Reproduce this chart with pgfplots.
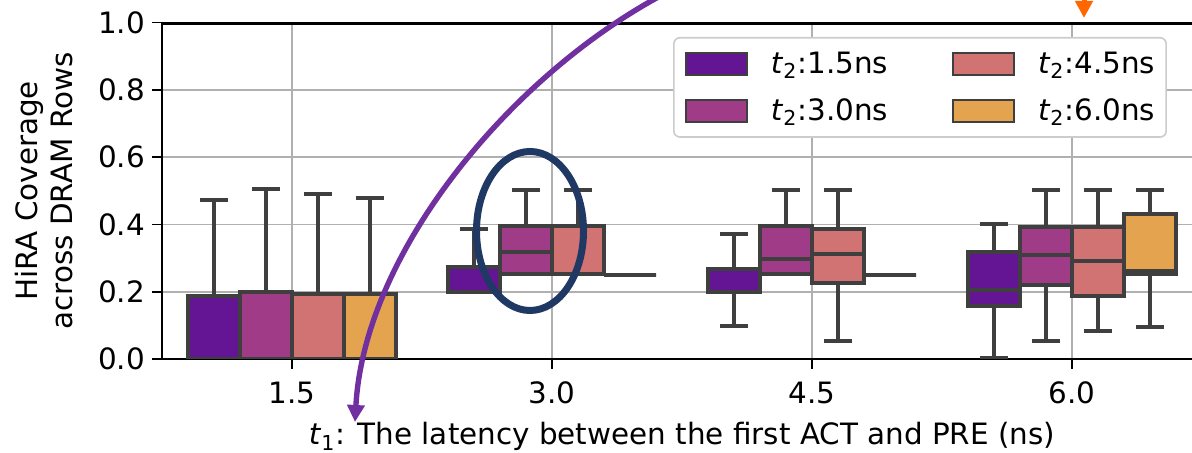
\documentclass[border=0pt]{standalone}
\usepackage{fontspec}
\setmainfont{DejaVu Sans}
\usepackage{pgfplots}
\pgfplotsset{compat=1.18}
\usepgfplotslibrary{statistics}
\usetikzlibrary{arrows.meta}
\definecolor{cA}{HTML}{641593}
\definecolor{cB}{HTML}{A03B87}
\definecolor{cC}{HTML}{D17372}
\definecolor{cD}{HTML}{E3A34F}
\definecolor{edge}{HTML}{3F3F3F}
\definecolor{gridc}{HTML}{B0B0B0}
\definecolor{arrowpurple}{HTML}{7030A0}
\definecolor{arroworange}{HTML}{FF6600}
\definecolor{navy}{HTML}{1F3864}
\newcommand{\fs}{\fontsize{14.7}{17.5}\selectfont}
% box: pos, lw, lq, med, uq, uw, colour
\newcommand{\bx}[7]{%
\addplot[forget plot, draw=edge, line width=2pt, solid, mark=none,
  boxplot/draw direction=y,
  boxplot/every box/.style={fill=#7},
  boxplot prepared={draw position=#1, lower whisker=#2, lower quartile=#3,
    median=#4, upper quartile=#5, upper whisker=#6,
    box extend=0.2, whisker extend=0.11}] coordinates {};}
\pgfplotsset{
  legimg/.style={legend image code/.code={
    \draw[sharp corners, fill=#1, draw=edge, line width=1pt] (0pt,-5.5pt) rectangle (30.5pt,5.5pt);}}
}
\begin{document}
\begin{tikzpicture}
\begin{axis}[
  at={(81pt,47pt)}, anchor=south west,
  scale only axis, width=520pt, height=168.15pt,
  xmin=-0.5, xmax=3.5, ymin=0, ymax=1.0,
  xtick={0,1,2,3}, xticklabels={1.5,3.0,4.5,6.0},
  ytick={0,0.2,0.4,0.6,0.8,1.0},
  yticklabel style={/pgf/number format/.cd, fixed, fixed zerofill, precision=1, assume math mode=true},
  tick label style={font=\fs},
  xticklabel style={yshift=-3pt},
  axis x line*=bottom, axis y line*=left,
  axis line style={-, line width=0.8pt, black},
  tick align=outside, major tick length=5pt,
  tick style={line width=0.8pt, black},
  grid=major, major grid style={color=gridc, line width=0.8pt},
  xlabel={\textit{t}\textsubscript{1}: The latency between the first ACT and PRE (ns)},
  xlabel style={font=\fs, at={(axis description cs:0.5,0)}, anchor=base, yshift=-43pt, inner sep=0pt},
  ylabel={HiRA Coverage\\across DRAM Rows},
  ylabel style={font=\fs, align=center, at={(axis description cs:-0.0856,0.5)}, anchor=south, inner sep=0pt},
  legend columns=2,
  legend cell align=left,
  legend style={at={(axis description cs:0.9663,0.9575)}, anchor=north east,
    draw=black!20, line width=0.8pt, rounded corners=3pt, fill=white,
    font=\fs, inner xsep=5.5pt, inner ysep=5pt, row sep=7pt,
    nodes={inner xsep=0pt, inner ysep=2pt},
    /tikz/every odd column/.append style={column sep=11.5pt},
    /tikz/every even column/.append style={column sep=32pt}},
]
% group 1.5
\bx{-0.3}{0}{0}{0}{0.188}{0.473}{cA}
\bx{-0.1}{0}{0}{0}{0.200}{0.505}{cB}
\bx{0.1}{0}{0}{0}{0.194}{0.490}{cC}
\bx{0.3}{0}{0}{0}{0.192}{0.480}{cD}
% group 3.0
\bx{0.7}{0.200}{0.200}{0.200}{0.275}{0.388}{cA}
\bx{0.9}{0.253}{0.253}{0.318}{0.395}{0.502}{cB}
\bx{1.1}{0.253}{0.253}{0.253}{0.395}{0.502}{cC}
\bx{1.3}{0.251}{0.251}{0.251}{0.251}{0.251}{cD}
% group 4.5
\bx{1.7}{0.098}{0.200}{0.200}{0.268}{0.372}{cA}
\bx{1.9}{0.253}{0.253}{0.298}{0.395}{0.502}{cB}
\bx{2.1}{0.054}{0.225}{0.312}{0.387}{0.502}{cC}
\bx{2.3}{0.251}{0.251}{0.251}{0.251}{0.251}{cD}
% group 6.0
\bx{2.7}{0.003}{0.157}{0.206}{0.317}{0.401}{cA}
\bx{2.9}{0.054}{0.220}{0.310}{0.393}{0.502}{cB}
\bx{3.1}{0.083}{0.188}{0.292}{0.393}{0.502}{cC}
\bx{3.3}{0.096}{0.253}{0.263}{0.432}{0.502}{cD}
\draw[black, line width=2pt] (rel axis cs:0,1) -- (rel axis cs:1,1);
\addlegendimage{legimg=cA}\addlegendentry{\textit{t}\textsubscript{2}:1.5ns}
\addlegendimage{legimg=cC}\addlegendentry{\textit{t}\textsubscript{2}:4.5ns}
\addlegendimage{legimg=cB}\addlegendentry{\textit{t}\textsubscript{2}:3.0ns}
\addlegendimage{legimg=cD}\addlegendentry{\textit{t}\textsubscript{2}:6.0ns}
\end{axis}
% annotations (image px -> pt: x/2, (453-y)/2)
\draw[navy, line width=3.5pt] (265pt,111pt) ellipse [x radius=26.75pt, y radius=39.75pt];
\draw[arrowpurple, line width=2.7pt, -{Triangle[length=8.5pt,width=8.5pt]}]
  (352pt,239pt) .. controls (268pt,204pt) and (182.5pt,106.5pt) .. (177.5pt,15.5pt);
\draw[arroworange, line width=2.5pt, -{Triangle[length=8.5pt,width=8.5pt]}]
  (542pt,245pt) -- (542pt,217.5pt);
\pgfresetboundingbox
\path[use as bounding box] (0pt,0pt) rectangle (596pt,226.5pt);
\end{tikzpicture}
\end{document}
